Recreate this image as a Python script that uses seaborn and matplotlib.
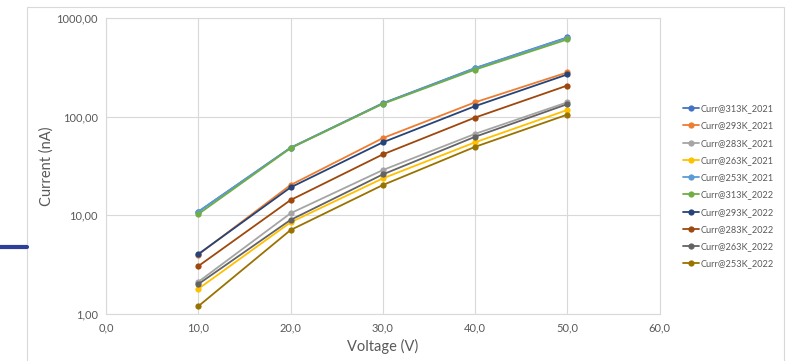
import matplotlib
matplotlib.use("Agg")
import matplotlib.pyplot as plt
import matplotlib.ticker as mticker
import seaborn as sns
import pandas as pd

voltage = [10, 20, 30, 40, 50]

series_names = [
    "Curr@313K_2021", "Curr@293K_2021", "Curr@283K_2021", "Curr@263K_2021",
    "Curr@253K_2021", "Curr@313K_2022", "Curr@293K_2022", "Curr@283K_2022",
    "Curr@263K_2022", "Curr@253K_2022",
]

curr_313_2021 = [10.9, 48.5, 137, 311, 636]
curr_293_2021 = [4.0, 20.3, 60.7, 140, 281]
curr_283_2021 = [2.12, 10.5, 28.8, 67, 140]
curr_263_2021 = [1.80, 8.5, 23.7, 55, 117]
curr_253_2021 = [10.9, 48.3, 136, 310, 632]
curr_313_2022 = [10.3, 48.0, 135, 300, 607]
curr_293_2022 = [4.05, 19.2, 55, 128, 268]
curr_283_2022 = [3.06, 14.3, 41.5, 98, 207]
curr_263_2022 = [2.01, 9.0, 26, 62.6, 134]
curr_253_2022 = [1.2, 7.1, 20.3, 49.5, 105]

colors = ["#4472C4", "#ED7D31", "#A5A5A5", "#FFC000", "#5B9BD5",
          "#70AD47", "#264478", "#9E480E", "#636363", "#997300"]

all_values = [curr_313_2021, curr_293_2021, curr_283_2021, curr_263_2021,
              curr_253_2021, curr_313_2022, curr_293_2022, curr_283_2022,
              curr_263_2022, curr_253_2022]

rows = []
for name, vals in zip(series_names, all_values):
    for v, c in zip(voltage, vals):
        rows.append({"series": name, "Voltage": v, "Current": c})
df = pd.DataFrame(rows)

sns.set_style("white")
plt.rcParams["font.family"] = ["Lato", "DejaVu Sans"]

fig = plt.figure(figsize=(7.93, 3.61), dpi=100)
ax = fig.add_axes([0.1337, 0.130, 0.698, 0.820])

sns.lineplot(data=df, x="Voltage", y="Current", hue="series",
             hue_order=series_names, palette=colors, marker="o",
             markersize=4.5, markeredgewidth=0, linewidth=1.3, ax=ax)

ax.set_yscale("log")
ax.set_ylim(1, 1000)
ax.set_xlim(0, 60)
ax.set_xticks([0, 10, 20, 30, 40, 50, 60])
ax.xaxis.set_major_formatter(mticker.FuncFormatter(lambda v, p: f"{v:.1f}".replace(".", ",")))
ax.yaxis.set_major_locator(mticker.FixedLocator([1, 10, 100, 1000]))
ax.yaxis.set_minor_locator(mticker.NullLocator())
ax.yaxis.set_major_formatter(mticker.FuncFormatter(lambda v, p: f"{v:.2f}".replace(".", ",")))

ax.grid(True, color="#D9D9D9", linewidth=0.8)
for s in ax.spines.values():
    s.set_color("#D9D9D9")
    s.set_linewidth(0.8)
ax.tick_params(axis="both", length=0, labelsize=8, labelcolor="#595959", pad=6)
ax.set_xlabel("Voltage (V)", fontsize=10.5, color="#595959", labelpad=4)
ax.set_ylabel("Current (nA)", fontsize=10.5, color="#595959", labelpad=2)

ax.legend(loc="center left", bbox_to_anchor=(1.0415, 0.431), frameon=False,
          fontsize=6.6, labelcolor="#595959", handlelength=1.8, handletextpad=0.15,
          labelspacing=0.9, borderpad=0, borderaxespad=0)

# outer chart frame and stray stroke on the left
fig.patches.append(plt.Rectangle((27 / 793, -0.05), 784 / 793 - 27 / 793, 1 - 7 / 361 + 0.05,
                                 transform=fig.transFigure, fill=False,
                                 edgecolor="#D9D9D9", linewidth=0.8))
fig.lines.append(plt.Line2D([0, 27 / 793], [1 - 247 / 361] * 2, transform=fig.transFigure,
                            color="#2E3F9A", linewidth=3))

fig.savefig("out.png", dpi=100)
